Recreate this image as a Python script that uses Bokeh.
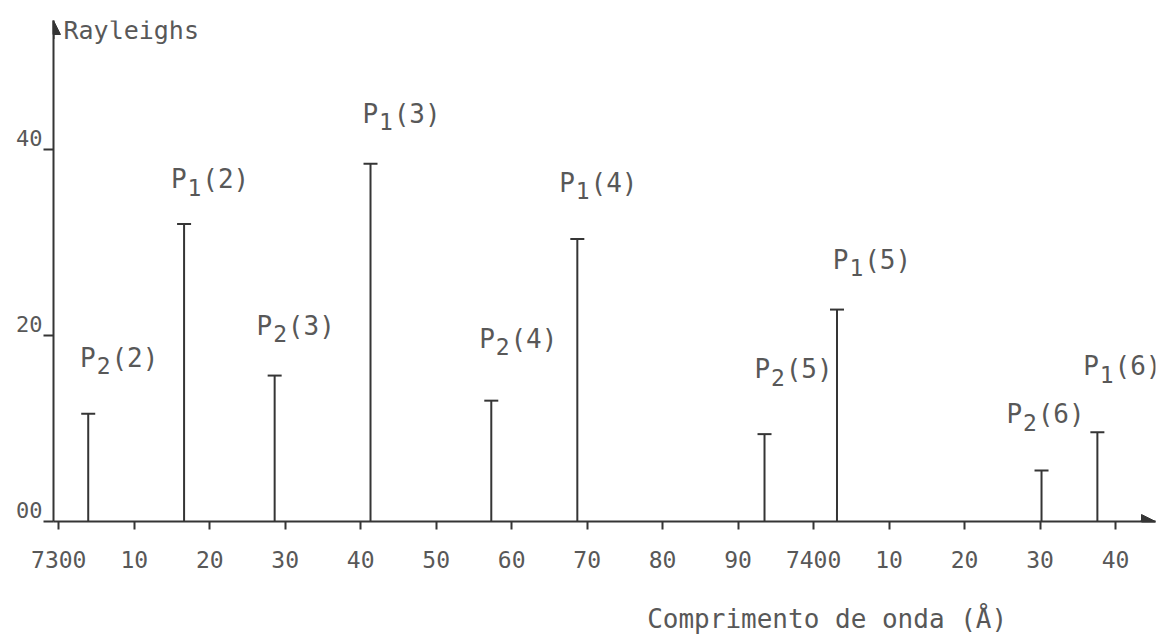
from bokeh.plotting import figure
from bokeh.models import (ColumnDataSource, Range1d, FixedTicker, Label, Arrow,
                          NormalHead, LinearAxis)
from bokeh.core.properties import value
from bokeh.embed import file_html
from bokeh.resources import INLINE

# ---- data ----
branch = ["2", "1", "2", "1", "2", "1", "2", "1", "2", "1"]
level = ["2", "2", "3", "3", "4", "4", "5", "5", "6", "6"]
wavelength = [7303.9, 7316.6, 7328.6, 7341.3, 7357.3, 7368.7, 7393.5, 7403.1, 7430.2, 7437.6]
intensity = [11.6, 32.0, 15.7, 38.5, 13.0, 30.4, 9.4, 22.8, 5.5, 9.6]

x_ticks = [7300, 7310, 7320, 7330, 7340, 7350, 7360, 7370, 7380, 7390,
           7400, 7410, 7420, 7430, 7440]
x_tick_labels = ["7300", "10", "20", "30", "40", "50", "60", "70", "80", "90",
                 "7400", "10", "20", "30", "40"]
y_ticks = [0, 20, 40]
y_tick_labels = ["00", "20", "40"]

x_title = "Comprimento de onda (Å)"
x_title_at = 7401.8          # where the typed title is centred along the axis
y_title = "Rayleighs"

# label placement (pixel offsets from each line top)
label_dx = [31, 26, 21, 31, 27, 21, 29, 35, 4, 25]
label_dy = [-56, -45, -50, -50, -62, -56, -65, -50, -56, -66]

FONTNAME = "DejaVu Sans Mono"
FONT = value(FONTNAME)
INK = "#353535"
TXT = "#585858"
CHARW = 15.6

x0, x1 = 7299.3, 7445.3
y0, y1 = 0, 53.9

W, H = 1169, 641
FL, FR, FT, FB = 53, 1155, 20, 521   # frame edges in pixels

p = figure(width=W, height=H, x_range=Range1d(x0, x1), y_range=Range1d(y0, y1),
           output_backend="svg", toolbar_location=None,
           min_border_left=FL, min_border_right=W - FR, min_border_top=FT,
           min_border_bottom=H - FB)
p.outline_line_color = None
p.grid.visible = False
p.background_fill_color = "white"
p.border_fill_color = "white"

for ax in (p.xaxis[0], p.yaxis[0]):
    ax.axis_line_color = INK
    ax.axis_line_width = 2
    ax.major_tick_line_color = INK
    ax.major_tick_line_width = 2
    ax.major_tick_in = 0
    ax.minor_tick_line_color = None
    ax.major_label_text_font = FONTNAME
    ax.major_label_text_color = TXT

p.xaxis.ticker = FixedTicker(ticks=x_ticks)
p.xaxis.major_label_overrides = {t: l for t, l in zip(x_ticks, x_tick_labels)}
p.xaxis.major_tick_out = 8
p.xaxis.major_label_standoff = 21
p.xaxis.major_label_text_font_size = "23px"

# axis title, typed off-centre to the right under the axis
title_axis = LinearAxis(ticker=FixedTicker(ticks=[x_title_at]),
                        major_label_overrides={x_title_at: x_title},
                        axis_line_color=None, major_tick_line_color=None,
                        minor_tick_line_color=None, major_tick_out=0, major_tick_in=0,
                        major_label_standoff=33, major_label_text_font=FONTNAME,
                        major_label_text_font_size="26px", major_label_text_color=TXT)
p.add_layout(title_axis, "below")

# main y axis: line + ticks only
p.yaxis.ticker = FixedTicker(ticks=y_ticks)
p.yaxis.major_label_overrides = {t: "" for t in y_ticks}
p.yaxis.major_tick_out = 10
p.yaxis.major_label_standoff = 0
p.yaxis.major_label_text_font_size = "1px"

# y tick labels sit just above their ticks (typewritten "40_")
px_per_unit = (FB - FT) / (y1 - y0)
shift = 12 / px_per_unit
p.extra_y_ranges = {"lab": Range1d(y0 - shift, y1 - shift)}
lab_axis = LinearAxis(y_range_name="lab", ticker=FixedTicker(ticks=y_ticks),
                      major_label_overrides={t: l for t, l in zip(y_ticks, y_tick_labels)},
                      axis_line_color=None, major_tick_line_color=None,
                      minor_tick_line_color=None, major_tick_out=0, major_tick_in=0,
                      major_label_standoff=1, major_label_text_font=FONTNAME,
                      major_label_text_font_size="22px", major_label_text_color=TXT)
p.add_layout(lab_axis, "left")

src = ColumnDataSource(dict(
    x=wavelength, y=intensity,
    main=["P (" + l + ")" for l in level],
    sub=branch,
    dx=label_dx, dy=label_dy,
    sdx=[d - CHARW for d in label_dx], sdy=[d + 8 for d in label_dy],
))

p.segment(x0="x", y0=0, x1="x", y1="y", source=src, line_color=INK, line_width=2)
p.scatter("x", "y", source=src, marker="dash", size=14, line_color=INK, line_width=2)

p.text(x="x", y="y", text="main", source=src, x_offset="dx", y_offset="dy",
       text_align="center", text_baseline="middle", text_font=FONT,
       text_font_size="26px", text_color=TXT)
p.text(x="x", y="y", text="sub", source=src, x_offset="sdx", y_offset="sdy",
       text_align="center", text_baseline="middle", text_font=FONT,
       text_font_size="23px", text_color=TXT)

# axis arrows
p.add_layout(Arrow(end=NormalHead(size=14, fill_color=INK, line_color=INK),
                   x_start=x1 - 2, y_start=0, x_end=x1, y_end=0,
                   line_color=INK, line_width=2))
p.add_layout(Arrow(end=NormalHead(size=14, fill_color=INK, line_color=INK),
                   x_start=x0, y_start=y1 - 2, x_end=x0, y_end=y1,
                   line_color=INK, line_width=2))

p.add_layout(Label(x=x0, y=y1, x_offset=10, y_offset=5, text=y_title,
                   text_baseline="top", text_align="left", text_font=FONTNAME,
                   text_font_size="25px", text_color=TXT))

open("out.html", "w").write(file_html(p, INLINE))
